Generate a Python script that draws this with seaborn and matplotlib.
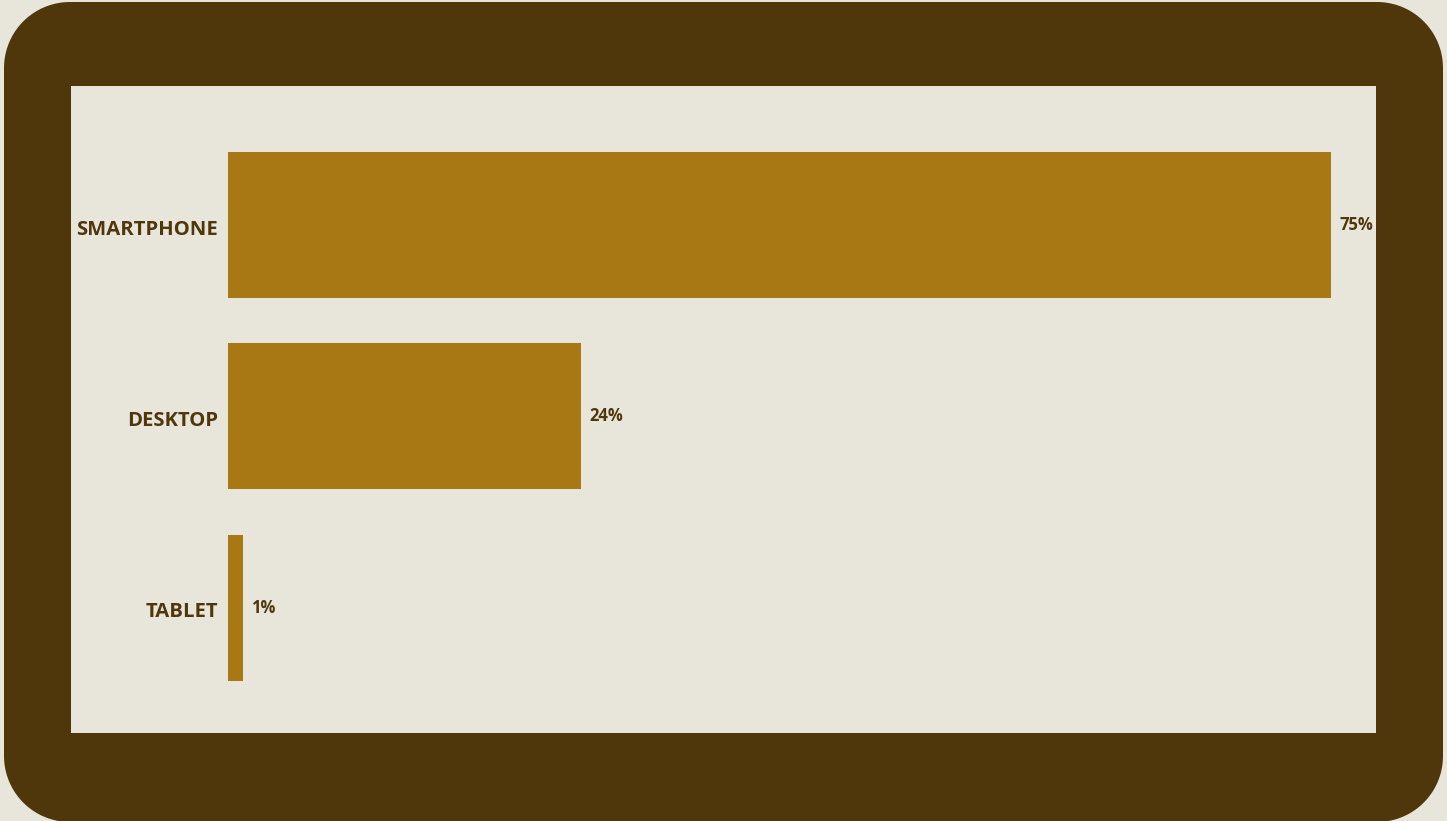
import matplotlib
matplotlib.use("Agg")
import matplotlib.pyplot as plt
import matplotlib.transforms as mtransforms
from matplotlib.patches import Polygon, Rectangle
import numpy as np
import seaborn as sns
import pandas as pd

categories = ["SMARTPHONE", "DESKTOP", "TABLET"]
values = [75, 24, 1]
value_labels = ["75%", "24%", "1%"]

BG = "#E8E6DA"
FRAME = "#4F370B"
BAR = "#A87815"
TEXT = "#4F370B"

sns.set_theme(style="white")
plt.rcParams["font.family"] = ["Open Sans", "DejaVu Sans"]

W, H = 1447, 821
fig = plt.figure(figsize=(W / 100, H / 100), dpi=100, facecolor=BG)


def rounded_rect(x0, y0, x1, y1, r, n=40):
    pts = []
    corners = [(x1 - r, y0 + r, -90, 0), (x1 - r, y1 - r, 0, 90),
               (x0 + r, y1 - r, 90, 180), (x0 + r, y0 + r, 180, 270)]
    for cx, cy, a0, a1 in corners:
        t = np.radians(np.linspace(a0, a1, n))
        pts.extend(zip(cx + r * np.cos(t), cy + r * np.sin(t)))
    return np.array(pts)


# background layer in pixel coordinates (y downward)
bg = fig.add_axes([0, 0, 1, 1])
bg.set_xlim(0, W)
bg.set_ylim(H, 0)
bg.axis("off")
bg.add_patch(Polygon(rounded_rect(4, 2, 1443, 822, 66), closed=True,
                     facecolor=FRAME, edgecolor="none"))
bg.add_patch(Rectangle((71, 86), 1305, 647, facecolor=BG, edgecolor="none"))

df = pd.DataFrame({"category": categories, "value": values})
ax = fig.add_axes([228 / W, (H - 733) / H, (1376 - 228) / W, (733 - 86) / H])
ax.set_facecolor("none")
sns.barplot(data=df, x="value", y="category", orient="h", color=BAR,
            saturation=1, width=0.763, edgecolor="none", linewidth=0, ax=ax)
ax.set_xlim(0, 78.07)
ax.set_ylim(2.656, -0.727)
for s in ax.spines.values():
    s.set_visible(False)
ax.set_xticks([])
ax.set_xlabel("")
ax.set_ylabel("")
ax.tick_params(axis="y", length=0, pad=7)
offset = mtransforms.ScaledTranslation(0, -2 / 100, fig.dpi_scale_trans)
for lbl in ax.get_yticklabels():
    lbl.set_fontweight("bold")
    lbl.set_fontsize(14.6)
    lbl.set_color(TEXT)
    lbl.set_transform(lbl.get_transform() + offset)

ax.bar_label(ax.containers[0], labels=value_labels, padding=6,
             fontsize=12, fontweight="bold", color=TEXT)

fig.savefig("out.png", dpi=100, facecolor=BG)
